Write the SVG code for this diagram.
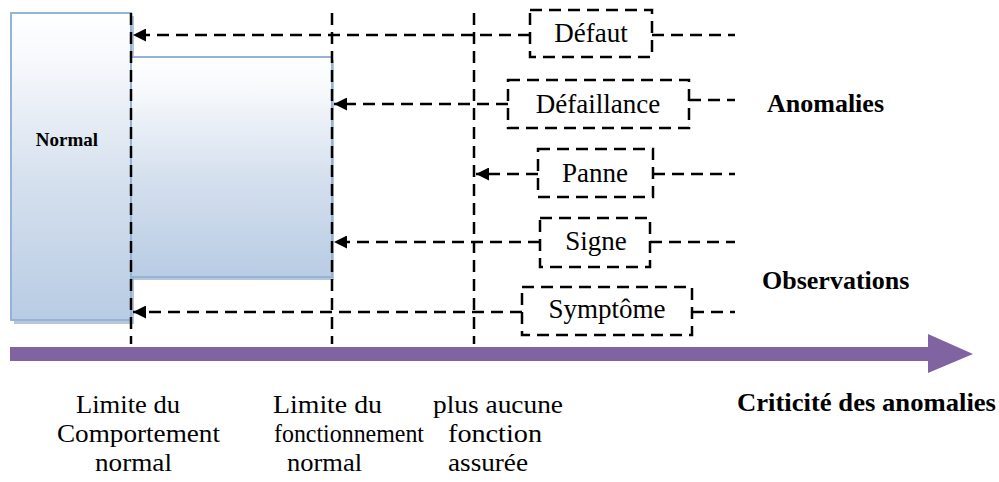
<svg xmlns="http://www.w3.org/2000/svg" width="999" height="482" viewBox="0 0 999 482">
  <style>
    text { font-family: 'Liberation Serif', 'Times New Roman', serif; fill: #000; }
    .lbl { font-size: 26px; }
    .box-lbl { font-size: 27px; }
    .bold { font-size: 26px; font-weight: bold; }
    .dash { fill: none; stroke: #000; stroke-width: 2.5; stroke-dasharray: 12 7; }
    .conn { fill: none; stroke: #000; stroke-width: 2.5; stroke-dasharray: 12 7; }
    .vline { fill: none; stroke: #000; stroke-width: 2.5; stroke-dasharray: 12 7; }
    .blk { fill: url(#blueGrad); stroke: #95B3D7; stroke-width: 2; }
    .shadow { fill: #9FB3CC; opacity: 0.75; }
  </style>
  <defs>
    <linearGradient id="blueGrad" x1="0" y1="0" x2="0" y2="1">
      <stop offset="0" stop-color="#FFFFFF"/>
      <stop offset="0.15" stop-color="#F7F9FC"/>
      <stop offset="0.55" stop-color="#D5E0EE"/>
      <stop offset="1" stop-color="#B8CCE4"/>
    </linearGradient>
    <marker id="arrowL" viewBox="0 0 10 10" refX="10" refY="5" markerWidth="15" markerHeight="13" markerUnits="userSpaceOnUse" orient="auto">
      <path d="M0,0 L10,5 L0,10 z" fill="#000"/>
    </marker>
  </defs>

  <!-- Normal block -->
  <g id="node-normal">
    <rect class="shadow" x="14" y="16" width="120" height="308"/>
    <rect class="blk" x="11" y="13" width="120" height="307"/>
    <text class="bold" x="67" y="146" text-anchor="middle" style="font-size:19px">Normal</text>
  </g>

  <!-- Second block -->
  <g id="node-fonctionnement">
    <rect class="shadow" x="131" y="60" width="203" height="220"/>
    <rect class="blk" x="131" y="57" width="201" height="220"/>
  </g>

  <!-- Connectors -->
  <g id="connectors">
    <line class="vline" x1="131" y1="13" x2="131" y2="344"/>
    <line class="vline" x1="332" y1="13" x2="332" y2="344"/>
    <line class="vline" x1="474" y1="13" x2="474" y2="344"/>

    <line class="conn" x1="530" y1="35" x2="133" y2="35" marker-end="url(#arrowL)"/>
    <line class="conn" x1="652" y1="35" x2="735" y2="35"/>
    <line class="conn" x1="508" y1="104" x2="334" y2="104" marker-end="url(#arrowL)"/>
    <line class="conn" x1="689" y1="100" x2="735" y2="100"/>
    <line class="conn" x1="538" y1="174" x2="476" y2="174" marker-end="url(#arrowL)"/>
    <line class="conn" x1="653" y1="174" x2="735" y2="174"/>
    <line class="conn" x1="540" y1="242" x2="334" y2="242" marker-end="url(#arrowL)"/>
    <line class="conn" x1="650" y1="242" x2="735" y2="242"/>
    <line class="conn" x1="522" y1="312" x2="133" y2="312" marker-end="url(#arrowL)"/>
    <line class="conn" x1="692" y1="312" x2="735" y2="312"/>
  </g>

  <!-- Labelled dashed boxes -->
  <g id="node-defaut">
    <rect class="dash" x="530" y="10" width="122" height="47"/>
    <text class="box-lbl" x="591" y="42" text-anchor="middle">Défaut</text>
  </g>
  <g id="node-defaillance">
    <rect class="dash" x="508" y="80" width="181" height="48"/>
    <text class="box-lbl" x="598" y="113" text-anchor="middle">Défaillance</text>
  </g>
  <g id="node-panne">
    <rect class="dash" x="538" y="149" width="115" height="48"/>
    <text class="box-lbl" x="595" y="182" text-anchor="middle">Panne</text>
  </g>
  <g id="node-signe">
    <rect class="dash" x="540" y="218" width="110" height="49"/>
    <text class="box-lbl" x="596" y="250" text-anchor="middle">Signe</text>
  </g>
  <g id="node-symptome">
    <rect class="dash" x="522" y="287" width="170" height="48"/>
    <text class="box-lbl" x="607" y="318" text-anchor="middle">Symptôme</text>
  </g>

  <!-- Side labels -->
  <g id="label-anomalies">
    <text class="bold" x="767" y="112">Anomalies</text>
  </g>
  <g id="label-observations">
    <text class="bold" x="762" y="289">Observations</text>
  </g>

  <!-- Criticality axis -->
  <g id="axis">
    <path d="M10,347 L928,347 L928,334 L973,354 L928,373 L928,361 L10,361 Z" fill="#8064A2"/>
    <text class="bold" x="737" y="411" textLength="259" lengthAdjust="spacingAndGlyphs">Criticité des anomalies</text>
  </g>

  <!-- Bottom labels -->
  <g id="label-limite-comportement">
    <text class="lbl" x="76" y="413" textLength="104" lengthAdjust="spacingAndGlyphs">Limite du</text>
    <text class="lbl" x="57" y="442" textLength="163" lengthAdjust="spacingAndGlyphs">Comportement</text>
    <text class="lbl" x="95" y="471" textLength="77" lengthAdjust="spacingAndGlyphs">normal</text>
  </g>
  <g id="label-limite-fonctionnement">
    <text class="lbl" x="273" y="413" textLength="109" lengthAdjust="spacingAndGlyphs">Limite du</text>
    <text class="lbl" x="274" y="442" textLength="150" lengthAdjust="spacingAndGlyphs">fonctionnement</text>
    <text class="lbl" x="287" y="471" textLength="75" lengthAdjust="spacingAndGlyphs">normal</text>
  </g>
  <g id="label-plus-aucune">
    <text class="lbl" x="433" y="413" textLength="130" lengthAdjust="spacingAndGlyphs">plus aucune</text>
    <text class="lbl" x="448" y="442" textLength="94" lengthAdjust="spacingAndGlyphs">fonction</text>
    <text class="lbl" x="448" y="471" textLength="80" lengthAdjust="spacingAndGlyphs">assurée</text>
  </g>
</svg>
